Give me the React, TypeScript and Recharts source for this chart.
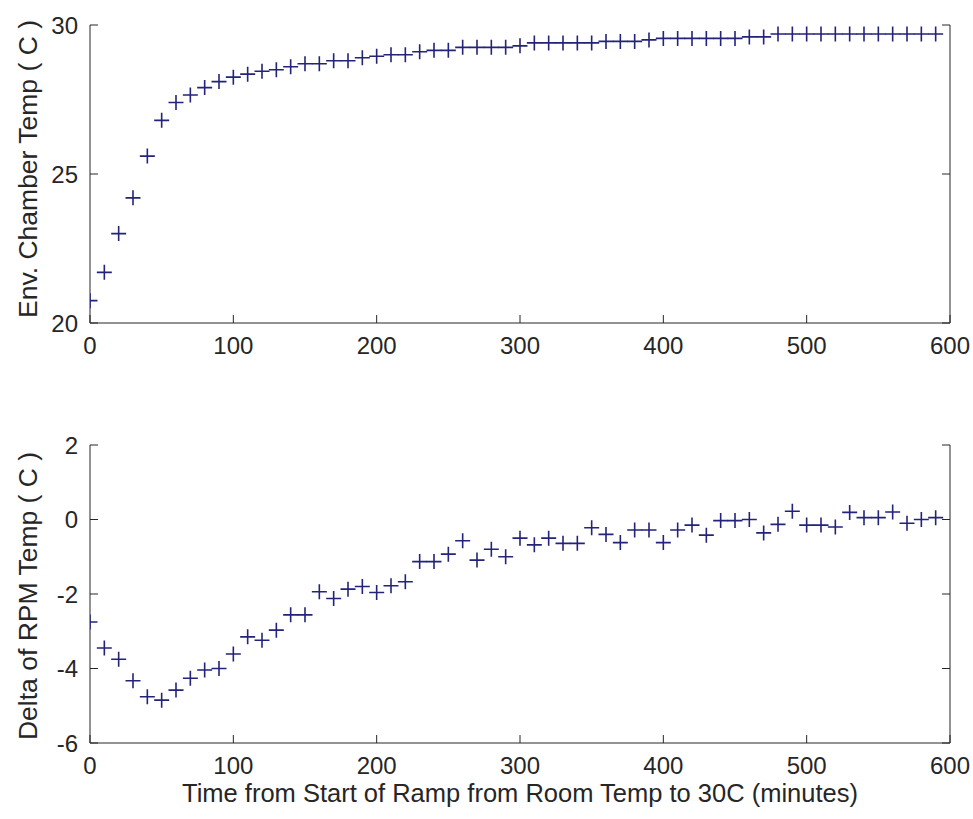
import React from "react";
import { ScatterChart, Scatter, XAxis, YAxis } from "recharts";

// sample times (minutes)
const minutes = [
  0, 10, 20, 30, 40, 50, 60, 70, 80, 90,
  100, 110, 120, 130, 140, 150, 160, 170, 180, 190,
  200, 210, 220, 230, 240, 250, 260, 270, 280, 290,
  300, 310, 320, 330, 340, 350, 360, 370, 380, 390,
  400, 410, 420, 430, 440, 450, 460, 470, 480, 490,
  500, 510, 520, 530, 540, 550, 560, 570, 580, 590,
];

// env. chamber temperature (C)
const chamberTemp = [
  20.75, 21.7, 23.0, 24.2, 25.6, 26.8, 27.4, 27.65, 27.9, 28.1,
  28.25, 28.35, 28.45, 28.5, 28.6, 28.7, 28.7, 28.8, 28.8, 28.9,
  28.95, 29.0, 29.0, 29.1, 29.15, 29.15, 29.25, 29.25, 29.25, 29.25,
  29.3, 29.4, 29.4, 29.4, 29.4, 29.4, 29.45, 29.45, 29.45, 29.5,
  29.55, 29.55, 29.55, 29.55, 29.55, 29.55, 29.6, 29.6, 29.7, 29.7,
  29.7, 29.7, 29.7, 29.7, 29.7, 29.7, 29.7, 29.7, 29.7, 29.7,
];

// delta of RPM temperature (C)
const rpmDelta = [
  -2.75, -3.45, -3.75, -4.33, -4.76, -4.85, -4.58, -4.26, -4.04, -4.0,
  -3.61, -3.15, -3.24, -2.97, -2.56, -2.56, -1.94, -2.12, -1.87, -1.8,
  -1.96, -1.78, -1.67, -1.13, -1.13, -0.93, -0.57, -1.09, -0.8, -1.0,
  -0.5, -0.68, -0.5, -0.64, -0.64, -0.22, -0.4, -0.62, -0.28, -0.28,
  -0.62, -0.28, -0.15, -0.42, -0.03, -0.03, 0.0, -0.36, -0.13, 0.22,
  -0.15, -0.15, -0.2, 0.19, 0.05, 0.05, 0.2, -0.1, 0.0, 0.05,
];

const xTicks = [0, 100, 200, 300, 400, 500, 600];
const chamberTicks = [20, 25, 30];
const deltaTicks = [-6, -4, -2, 0, 2];

const FONT = '"Liberation Sans", Arial, sans-serif';
const INK = "#262626";
const MARK = "#23237a";
const TICK = 8;

const chamberData = minutes.map((m, i) => ({ minute: m, value: chamberTemp[i] }));
const deltaData = minutes.map((m, i) => ({ minute: m, value: rpmDelta[i] }));

const PlusMark = (props: any) => {
  const { cx, cy } = props;
  if (cx == null || cy == null) return null;
  return (
    <path
      d={`M${cx - 7.5},${cy}h15M${cx},${cy - 7.5}v15`}
      stroke={MARK}
      strokeWidth={1.6}
      fill="none"
    />
  );
};

const BottomTick = (props: any) => {
  const { x, y, payload } = props;
  return (
    <g>
      <line x1={x} y1={y} x2={x} y2={y - TICK} stroke={INK} />
      <text x={x} y={y + 22} textAnchor="middle" dominantBaseline="central"
        fontFamily={FONT} fontSize={24} fill={INK}>{payload.value}</text>
    </g>
  );
};

const TopTick = (props: any) => {
  const { x, y } = props;
  return <line x1={x} y1={y} x2={x} y2={y + TICK} stroke={INK} />;
};

const LeftTick = (props: any) => {
  const { x, y, payload } = props;
  return (
    <g>
      <line x1={x} y1={y} x2={x + TICK} y2={y} stroke={INK} />
      <text x={x - 12} y={y} textAnchor="end" dominantBaseline="central"
        fontFamily={FONT} fontSize={24} fill={INK}>{payload.value}</text>
    </g>
  );
};

const RightTick = (props: any) => {
  const { x, y } = props;
  return <line x1={x} y1={y} x2={x - TICK} y2={y} stroke={INK} />;
};

const yTitle = (text: string, shift: number) => (p: any) => {
  const vb = p.viewBox;
  const cy = vb.y + vb.height / 2 + shift;
  return (
    <text x={28} y={cy} transform={`rotate(-90 28 ${cy})`} textAnchor="middle"
      dominantBaseline="central" fontFamily={FONT} fontSize={26.5} fill={INK}>{text}</text>
  );
};

const xTitle = (text: string) => (p: any) => {
  const vb = p.viewBox;
  return (
    <text x={vb.x + vb.width / 2} y={vb.y + 50} textAnchor="middle"
      dominantBaseline="central" fontFamily={FONT} fontSize={25.5} fill={INK}>{text}</text>
  );
};

function Panel({ data, domain, ticks, top, height, plotTop, bottomH, yLabel, yShift, xLabel }: any) {
  return (
    <div style={{ position: "absolute", left: 0, top }}>
      <ScatterChart width={973} height={height} margin={{ top: plotTop, right: 0, bottom: 0, left: 0 }}>
        <XAxis xAxisId="b" dataKey="minute" type="number" domain={[0, 600]} ticks={xTicks}
          interval={0} height={bottomH} tickSize={0} tickMargin={0} tickLine={false}
          axisLine={{ stroke: INK }} tick={BottomTick} allowDataOverflow
          label={xLabel ? { content: xTitle(xLabel) } : undefined} />
        <XAxis xAxisId="t" orientation="top" dataKey="minute" type="number" domain={[0, 600]}
          ticks={xTicks} interval={0} height={0} tickSize={0} tickMargin={0} tickLine={false}
          axisLine={{ stroke: INK }} tick={TopTick} allowDataOverflow />
        <YAxis yAxisId="l" dataKey="value" type="number" domain={domain} ticks={ticks}
          interval={0} width={90} tickSize={0} tickMargin={0} tickLine={false}
          axisLine={{ stroke: INK }} tick={LeftTick} allowDataOverflow
          label={{ content: yTitle(yLabel, yShift) }} />
        <YAxis yAxisId="r" orientation="right" dataKey="value" type="number" domain={domain}
          ticks={ticks} interval={0} width={23} tickSize={0} tickMargin={0} tickLine={false}
          axisLine={{ stroke: INK }} tick={RightTick} allowDataOverflow />
        <Scatter xAxisId="b" yAxisId="l" data={data} shape={PlusMark} isAnimationActive={false} />
      </ScatterChart>
    </div>
  );
}

export default function App() {
  return (
    <div style={{ position: "absolute", left: 0, top: 0, width: 973, height: 819, background: "#fff" }}>
      <Panel data={chamberData} domain={[20, 30]} ticks={chamberTicks} top={0} height={360}
        plotTop={25} bottomH={37} yLabel="Env. Chamber Temp ( C )" yShift={-5} />
      <Panel data={deltaData} domain={[-6, 2]} ticks={deltaTicks} top={360} height={459}
        plotTop={85} bottomH={76} yLabel="Delta of RPM Temp ( C )" yShift={2}
        xLabel="Time from Start of Ramp from Room Temp to 30C (minutes)" />
    </div>
  );
}
